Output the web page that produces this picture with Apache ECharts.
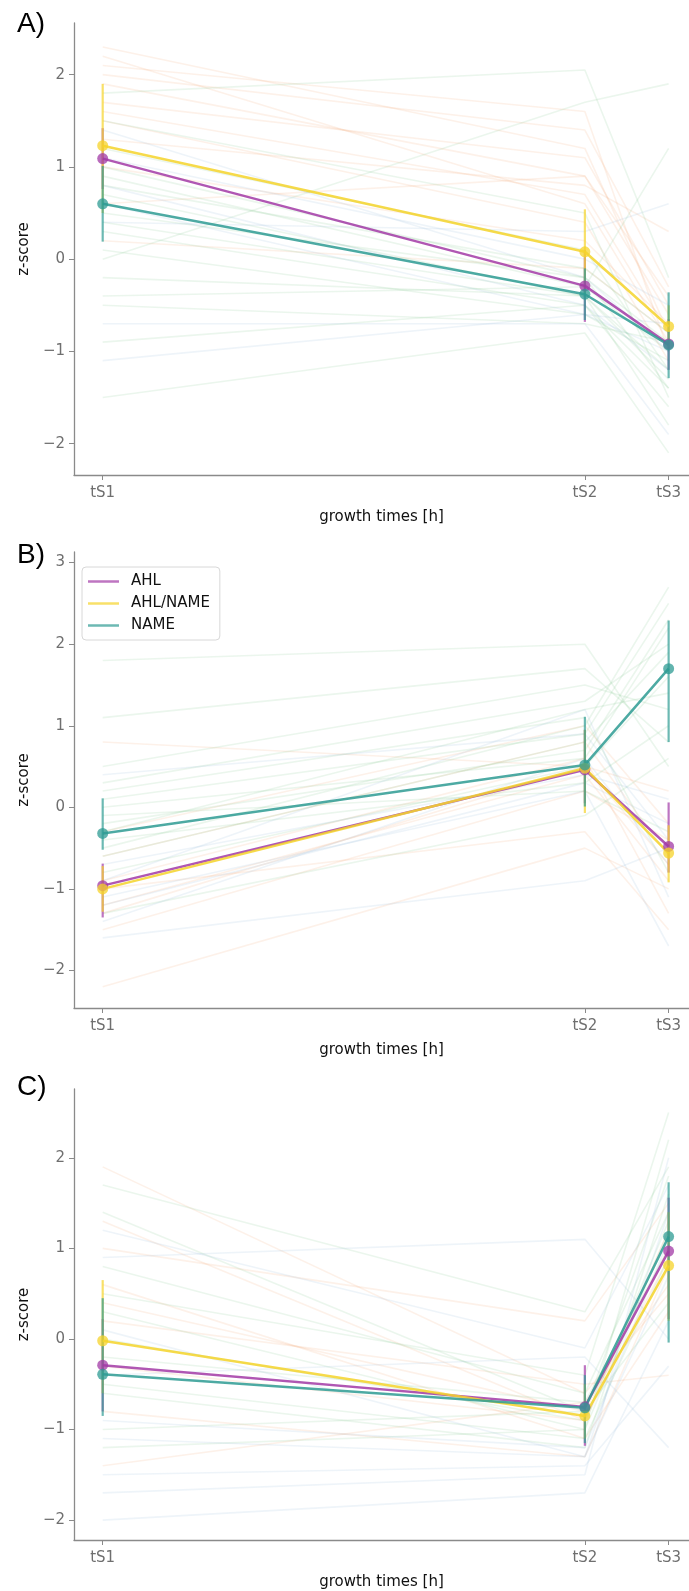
<!DOCTYPE html>
<html>
<head>
<meta charset="utf-8">
<title>z-score profiles</title>
<script src="https://cdn.jsdelivr.net/npm/echarts@6/dist/echarts.min.js"></script>
<style>
  body { margin: 0; background: #fff; }
  #main { width: 689px; height: 1591px; }
</style>
</head>
<body>
<div id="main"></div>
<script type="text/javascript">
// growth time points (relative position on the time axis)
const timeLabels = ['tS1', 'tS2', 'tS3'];
const timePos = [0, 0.852, 1];
const groups = ['AHL', 'AHL/NAME', 'NAME'];

// panel A: cluster means and error bars [low, high]
const meanA_AHL = [1.09, -0.29, -0.92];
const meanA_AHLNAME = [1.23, 0.08, -0.73];
const meanA_NAME = [0.60, -0.38, -0.93];
const errA_AHL = [[0.76, 1.42], [-0.68, 0.10], [-1.20, -0.65]];
const errA_AHLNAME = [[0.50, 1.90], [-0.38, 0.54], [-0.95, -0.50]];
const errA_NAME = [[0.19, 1.01], [-0.66, -0.10], [-1.29, -0.36]];

// panel B
const meanB_AHL = [-0.96, 0.46, -0.48];
const meanB_AHLNAME = [-1.00, 0.48, -0.56];
const meanB_NAME = [-0.32, 0.52, 1.70];
const errB_AHL = [[-1.35, -0.69], [0.05, 0.95], [-0.80, 0.06]];
const errB_AHLNAME = [[-1.28, -0.72], [-0.07, 0.95], [-0.92, -0.22]];
const errB_NAME = [[-0.52, 0.11], [0.01, 1.11], [0.80, 2.29]];

// panel C
const meanC_AHL = [-0.29, -0.75, 0.97];
const meanC_AHLNAME = [-0.02, -0.85, 0.81];
const meanC_NAME = [-0.39, -0.76, 1.13];
const errC_AHL = [[-0.80, 0.22], [-1.18, -0.29], [0.22, 1.56]];
const errC_AHLNAME = [[-0.60, 0.65], [-1.10, -0.50], [0.20, 1.40]];
const errC_NAME = [[-0.85, 0.45], [-1.15, -0.40], [-0.04, 1.73]];

// faint single profiles behind the means (tS1, tS2, tS3)
const bgA_orange = [[2.3, 1.2, -0.8], [2.1, 1.6, -1.0], [1.9, 0.9, -0.6], [2.2, 0.6, -0.9], [1.7, 1.1, -0.5],
  [1.5, 0.4, -1.1], [1.3, 0.8, 0.3], [1.0, 0.2, -0.7], [0.6, 0.9, -0.4], [0.2, -0.1, -0.8],
  [2.0, 1.4, -0.3], [1.6, 0.7, -0.8]];
const bgA_green = [[1.8, 2.05, -0.2], [1.2, 0.1, -1.2], [0.9, -0.3, -1.0], [0.7, -0.4, -1.3], [0.5, -0.2, -0.9],
  [0.3, -0.5, -1.6], [0.1, -0.6, -1.1], [-0.2, -0.4, -1.8], [-0.5, -0.7, -0.9], [-0.9, -0.5, -1.4],
  [-1.5, -0.8, -2.1], [0.0, 1.7, 1.9], [-0.4, -0.3, 1.2], [1.5, 0.5, -1.5], [0.8, -0.1, -0.8],
  [0.4, -0.4, -1.2], [1.0, -0.2, -1.4]];
const bgA_blue = [[1.4, -0.2, -1.0], [0.8, -0.5, -1.2], [-1.1, -0.6, -0.7], [0.4, 0.3, 0.6], [-0.7, -0.7, -1.9],
  [1.1, 0.0, -0.5], [0.6, -0.6, -1.0]];

const bgB_orange = [[-1.2, 0.4, -0.9], [-0.9, 0.6, -1.3], [-1.5, 0.2, -0.4], [-0.6, 0.8, -0.6], [-1.0, -0.3, -1.5],
  [0.8, 0.5, 0.2], [-2.2, -0.5, -1.0], [-0.3, 1.0, -0.2], [-1.3, 0.5, -0.7]];
const bgB_green = [[-0.5, 1.0, 2.7], [-0.2, 0.7, 2.3], [0.3, 1.3, 2.0], [-0.8, 0.5, 1.6], [0.1, 0.9, 2.5],
  [0.5, 1.5, 1.2], [-0.4, 0.3, 1.0], [1.8, 2.0, 0.5], [1.1, 1.7, 0.8], [-0.1, 0.2, -0.3],
  [-1.3, -0.1, 0.6], [0.2, 1.1, -0.8], [-0.6, 0.8, 1.9], [0.0, 0.6, 2.2], [-0.3, 1.2, 1.4]];
const bgB_blue = [[-1.4, 0.6, -0.7], [-1.1, 0.2, -1.7], [-0.7, 0.4, 0.1], [0.4, 0.9, -0.4], [-1.6, -0.9, -0.5],
  [-0.9, 1.2, -1.1], [-1.2, 0.3, -0.2]];

const bgC_orange = [[1.9, -0.6, 0.5], [1.3, -0.9, 0.9], [0.6, -1.1, 0.3], [-0.3, -0.9, 1.2], [-1.4, -0.7, 0.6],
  [0.2, -0.5, -0.4], [-0.8, -1.3, 0.8], [1.0, 0.2, 1.5], [0.4, -0.8, 1.0]];
const bgC_green = [[1.4, -0.8, 1.8], [0.8, -0.6, 1.4], [0.3, -1.0, 2.2], [-0.2, -0.7, 1.0], [-0.6, -1.2, 1.6],
  [-1.0, -0.8, 0.4], [0.5, -0.4, 2.5], [-1.2, -1.0, 1.2], [1.7, 0.3, 1.9], [0.0, -0.9, 1.3],
  [-0.5, -1.1, 0.9]];
const bgC_blue = [[-2.0, -1.7, 0.2], [-1.5, -1.4, -0.3], [-0.9, -1.2, 1.1], [0.1, -1.3, 0.7], [0.9, 1.1, 0.0],
  [-0.4, -0.2, -1.2], [-1.7, -1.5, 2.0], [1.2, -0.1, 1.7], [-1.1, -1.3, 1.4]];

// y ticks per panel
const yTicksA = [-2, -1, 0, 1, 2];
const yTicksB = [-2, -1, 0, 1, 2, 3];
const yTicksC = [-2, -1, 0, 1, 2];

const groupColors = ['#a23aa6', '#f5d32a', '#2e9b93'];
const bgColors = { orange: '#f0a06a', green: '#7cc487', blue: '#8ab8d8' };

const panels = [
  { means: [meanA_AHL, meanA_AHLNAME, meanA_NAME], errs: [errA_AHL, errA_AHLNAME, errA_NAME],
    bg: { orange: bgA_orange, green: bgA_green, blue: bgA_blue }, ticks: yTicksA,
    yMin: -2.34, yMax: 2.56, grid: { left: 74, right: 0, top: 23, height: 452 }, letter: 'A)', letterTop: 10 },
  { means: [meanB_AHL, meanB_AHLNAME, meanB_NAME], errs: [errB_AHL, errB_AHLNAME, errB_NAME],
    bg: { orange: bgB_orange, green: bgB_green, blue: bgB_blue }, ticks: yTicksB,
    yMin: -2.46, yMax: 3.13, grid: { left: 74, right: 0, top: 552, height: 456 }, letter: 'B)', letterTop: 541 },
  { means: [meanC_AHL, meanC_AHLNAME, meanC_NAME], errs: [errC_AHL, errC_AHLNAME, errC_NAME],
    bg: { orange: bgC_orange, green: bgC_green, blue: bgC_blue }, ticks: yTicksC,
    yMin: -2.22, yMax: 2.76, grid: { left: 74, right: 0, top: 1089, height: 452 }, letter: 'C)', letterTop: 1073 }
];

const axisGray = '#8a8a8a';
const labelGray = '#6f6f6f';
const fontFam = 'DejaVu Sans';

const grids = [], xAxes = [], yAxes = [], series = [], graphics = [];

panels.forEach((p, i) => {
  grids.push(p.grid);
  xAxes.push({
    gridIndex: i, type: 'value', min: -0.0507, max: 1.036,
    name: 'growth times [h]', nameLocation: 'middle', nameGap: 35,
    nameTextStyle: { color: '#111', fontSize: 15, fontFamily: fontFam },
    axisLine: { onZero: false, lineStyle: { color: axisGray, width: 1.3 } },
    axisTick: { customValues: timePos, length: 5, lineStyle: { color: axisGray } },
    axisLabel: {
      customValues: timePos, color: labelGray, fontSize: 15, fontFamily: fontFam, margin: 11,
      formatter: v => {
        let best = 0;
        timePos.forEach((t, k) => { if (Math.abs(t - v) < Math.abs(timePos[best] - v)) best = k; });
        return timeLabels[best];
      }
    },
    splitLine: { show: false }
  });
  yAxes.push({
    gridIndex: i, type: 'value', min: p.yMin, max: p.yMax,
    name: 'z-score', nameLocation: 'middle', nameGap: 35,
    nameTextStyle: { color: '#111', fontSize: 15, fontFamily: fontFam },
    axisLine: { show: true, onZero: false, lineStyle: { color: axisGray, width: 1.3 } },
    axisTick: { show: true, customValues: p.ticks, length: 5, lineStyle: { color: axisGray } },
    axisLabel: {
      customValues: p.ticks, color: labelGray, fontSize: 15, fontFamily: fontFam, margin: 9,
      formatter: v => (v < 0 ? '\u2212' + Math.abs(v) : String(v))
    },
    splitLine: { show: false }
  });

  // faint background profiles
  ['orange', 'green', 'blue'].forEach(c => {
    p.bg[c].forEach(prof => {
      series.push({
        type: 'line', xAxisIndex: i, yAxisIndex: i, silent: true, symbol: 'none', z: 1,
        data: prof.map((v, k) => [timePos[k], v]),
        lineStyle: { color: bgColors[c], width: 1.6, opacity: 0.15 }
      });
    });
  });

  // error bars then means
  groups.forEach((g, gi) => {
    series.push({
      type: 'custom', xAxisIndex: i, yAxisIndex: i, silent: true, z: 4,
      data: p.errs[gi].map((e, k) => [timePos[k], e[0], e[1]]),
      encode: { x: 0, y: [1, 2] },
      renderItem: (params, api) => {
        const a = api.coord([api.value(0), api.value(1)]);
        const b = api.coord([api.value(0), api.value(2)]);
        return { type: 'line', shape: { x1: a[0], y1: a[1], x2: b[0], y2: b[1] },
          style: { stroke: groupColors[gi], lineWidth: 2.2, opacity: 0.7 } };
      }
    });
  });
  groups.forEach((g, gi) => {
    series.push({
      type: 'line', name: g, xAxisIndex: i, yAxisIndex: i, z: 5,
      data: p.means[gi].map((v, k) => [timePos[k], v]),
      symbol: 'circle', symbolSize: 11,
      itemStyle: { color: groupColors[gi], opacity: 0.75 },
      lineStyle: { color: groupColors[gi], width: 2.5, opacity: 0.85 }
    });
  });

  graphics.push({
    type: 'text', left: 17, top: p.letterTop,
    style: { text: p.letter, fontSize: 28, fontFamily: 'Liberation Sans', fill: '#000' }
  });
});

const chart = echarts.init(document.getElementById('main'));
chart.setOption({
  animation: false,
  backgroundColor: '#fff',
  grid: grids,
  xAxis: xAxes,
  yAxis: yAxes,
  graphic: graphics,
  legend: {
    orient: 'vertical', left: 82, top: 567,
    padding: [6, 10, 6, 6], itemGap: 5, itemWidth: 31, itemHeight: 2.5,
    backgroundColor: '#fff', borderColor: '#d8d8d8', borderWidth: 1, borderRadius: 4,
    data: groups.map((g, gi) => ({ name: g, icon: 'rect', itemStyle: { color: groupColors[gi], opacity: 0.7 } })),
    textStyle: { color: '#111', fontSize: 15, fontFamily: fontFam, lineHeight: 17, padding: [0, 0, 0, 7] }
  },
  series: series
});
</script>
</body>
</html>
